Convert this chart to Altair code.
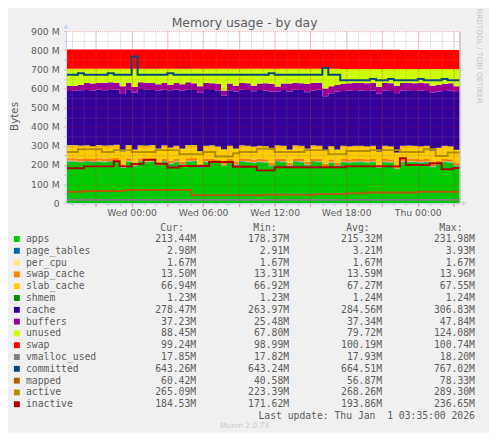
import altair as alt
import pandas as pd

# ---------------- data (MiB, 30-minute samples) ----------------
# sample times: hours after Tue 18:30 (last sample Thu 03:30)
hours = [i * 0.5 for i in range(67)]

apps = [217, 217, 214, 216, 212, 217, 214, 216, 218, 184,
        217, 194, 216, 214, 217, 199, 216, 204, 214, 199,
        217, 218, 186, 214, 216, 210, 196, 214, 199, 216,
        214, 210, 214, 212, 194, 216, 214, 194, 216, 214,
        199, 216, 214, 189, 212, 194, 214, 212, 214, 215,
        212, 214, 184, 214, 212, 179, 214, 216, 214, 212,
        214, 189, 204, 214, 212, 194, 213]
page_tables = [3.4] * 21 + [3.2] * 25 + [3.0] * 21
per_cpu = [1.67] * 67
swap_cache = [13.9] * 16 + [13.6] * 30 + [13.5] * 21
slab_cache = [67.5] * 21 + [67.3] * 25 + [67.0] * 21
shmem = [1.24] * 67
cache = [282, 284, 289, 289, 289, 290, 289, 293, 289, 300,
         292, 298, 294, 294, 288, 302, 291, 299, 293, 302,
         292, 287, 306, 296, 289, 291, 280, 289, 299, 291,
         291, 289, 291, 291, 304, 281, 291, 304, 291, 291,
         294, 287, 293, 284, 276, 304, 287, 291, 287, 288,
         289, 289, 304, 289, 289, 306, 289, 289, 287, 291,
         287, 304, 294, 287, 291, 301, 279]
buffers = [26, 26, 28, 36, 38, 36, 38, 36, 36, 40,
           34, 28, 35, 35, 36, 34, 36, 28, 34, 34,
           36, 36, 33, 33, 36, 36, 27, 36, 30, 36,
           36, 28, 34, 38, 39, 26, 34, 41, 36, 36,
           44, 40, 36, 40, 37, 35, 38, 38, 42, 40,
           40, 40, 35, 40, 40, 43, 40, 38, 40, 40,
           40, 35, 35, 38, 38, 30, 37]
unused = [91, 89, 85, 75, 77, 73, 75, 71, 73, 92,
          73, 96, 71, 73, 75, 81, 73, 85, 75, 81,
          71, 75, 91, 73, 75, 79, 113, 77, 88, 73,
          75, 89, 77, 75, 79, 93, 77, 77, 73, 75,
          79, 73, 73, 103, 91, 83, 77, 75, 73, 73,
          75, 73, 93, 73, 75, 88, 73, 73, 75, 73,
          75, 88, 83, 77, 75, 91, 87]
swap = [100.7] * 11 + [100.5] * 15 + [100.2] * 15 + [99.8] * 15 + [99.3] * 11

vmalloc_used = [18.2] * 6 + [17.9] * 60 + [17.85]
committed = [672, 672, 680, 672, 672, 672, 672, 680, 672, 672,
             672, 767, 672, 672, 672, 672, 672, 680, 672, 672,
             672, 672, 672, 672, 672, 672, 672, 672, 672, 672,
             672, 672, 672, 672, 680, 672, 672, 672, 672, 672,
             672, 672, 672, 708, 672, 672, 643, 643, 643, 643,
             643, 650, 643, 643, 650, 643, 643, 643, 643, 650,
             643, 643, 643, 650, 643, 643, 643]
mapped = [60, 60, 60, 64, 64, 64, 64, 64, 64, 64,
          70, 70, 70, 70, 70, 70, 70, 70, 70, 70,
          70, 42, 42, 42, 42, 42, 42, 42, 42, 42,
          42, 42, 42, 45, 45, 45, 45, 45, 45, 45,
          45, 45, 49, 49, 49, 49, 49, 53, 53, 53,
          56, 56, 56, 56, 56, 56, 56, 56, 56, 60,
          60, 60, 60, 60, 60, 60, 60]
active = [268, 268, 283, 283, 283, 283, 268, 268, 278, 278,
          278, 268, 268, 268, 268, 278, 278, 278, 278, 257,
          257, 257, 257, 268, 268, 245, 245, 245, 262, 268,
          268, 268, 285, 285, 285, 268, 268, 268, 268, 268,
          278, 278, 278, 278, 257, 257, 257, 273, 273, 273,
          273, 278, 278, 278, 278, 278, 268, 268, 268, 268,
          283, 283, 247, 247, 265, 265, 265]
inactive = [183, 183, 183, 193, 193, 193, 193, 193, 220, 193,
            193, 206, 206, 228, 228, 206, 206, 187, 187, 195,
            195, 195, 195, 195, 216, 216, 216, 216, 191, 191,
            191, 191, 172, 172, 172, 188, 188, 188, 188, 188,
            188, 188, 188, 188, 188, 188, 188, 193, 193, 193,
            193, 193, 193, 193, 193, 193, 236, 200, 200, 200,
            200, 209, 209, 178, 178, 184, 184]

stack_names = ["apps", "page_tables", "per_cpu", "swap_cache", "slab_cache",
               "shmem", "cache", "buffers", "unused", "swap"]
stack_values = [apps, page_tables, per_cpu, swap_cache, slab_cache,
                shmem, cache, buffers, unused, swap]
stack_colors = ["#00CC00", "#0066B3", "#FFE680", "#FF8000", "#FFCC00",
                "#008F00", "#330099", "#990099", "#CCFF00", "#FF0000"]

line_names = ["vmalloc_used", "committed", "mapped", "active", "inactive"]
line_values = [vmalloc_used, committed, mapped, active, inactive]
line_colors = ["#808080", "#00487D", "#B35A00", "#B38F00", "#B30000"]

legend_names = stack_names + line_names
legend_colors = stack_colors + line_colors
cur_vals = ["213.44M", "2.98M", "1.67M", "13.50M", "66.94M", "1.23M", "278.47M", "37.23M",
            "88.45M", "99.24M", "17.85M", "643.26M", "60.42M", "265.09M", "184.53M"]
min_vals = ["178.37M", "2.91M", "1.67M", "13.31M", "66.92M", "1.23M", "263.97M", "25.48M",
            "67.80M", "98.99M", "17.82M", "643.24M", "40.58M", "223.39M", "171.62M"]
avg_vals = ["215.32M", "3.21M", "1.67M", "13.59M", "67.27M", "1.24M", "284.56M", "37.34M",
            "79.72M", "100.19M", "17.93M", "664.51M", "56.87M", "268.26M", "193.86M"]
max_vals = ["231.98M", "3.93M", "1.67M", "13.96M", "67.55M", "1.24M", "306.83M", "47.84M",
            "124.08M", "100.74M", "18.20M", "767.02M", "78.33M", "289.30M", "236.65M"]
stat_cols = ["Cur", "Min", "Avg", "Max"]

tick_hours = [5.5, 11.5, 17.5, 23.5, 29.5]
tick_labels = ["Wed 00:00", "Wed 06:00", "Wed 12:00", "Wed 18:00", "Thu 00:00"]
major_hours = [2.5 + 3 * k for k in range(11)]
minor_hours = [0.5 + k for k in range(33)]
major_mib = [100 * k for k in range(10)]
minor_mib = [50 + 100 * k for k in range(9)]

title_text = "Memory usage - by day"
ylabel_text = "Bytes"
side_text = "RRDTOOL / TOBI OETIKER"
update_text = "Last update: Thu Jan\u00a0\u00a01 03:35:00 2026"
munin_text = "Munin 2.0.73"

# ---------------- tables ----------------
stack_rows = []
for i, h in enumerate(hours):
    base = 0.0
    for name, vals in zip(stack_names, stack_values):
        stack_rows.append({"h": h, "series": name, "y0": base, "y1": base + vals[i]})
        base += vals[i]
stack_df = pd.DataFrame(stack_rows)

line_df = pd.DataFrame([{"h": h, "series": n, "v": vals[i], "k": j}
                        for j, (n, vals) in enumerate(zip(line_names, line_values))
                        for i, h in enumerate(hours)])

leg_df = pd.DataFrame({"name": legend_names})
stat_df = pd.DataFrame([{"name": n, "col": c, "txt": lst[k]}
                        for k, n in enumerate(legend_names)
                        for c, lst in zip(stat_cols, [cur_vals, min_vals, avg_vals, max_vals])])
head_df = pd.DataFrame({"col": stat_cols, "txt": [c + ":" for c in stat_cols]})
frame_df = pd.DataFrame({"h": [hours[0], hours[-1]], "v": [major_mib[0], major_mib[-1]]})

TXT = "#5e5e5e"
LAV = "#CCD3F5"
SANS = "DejaVu Sans"
MONO = "DejaVu Sans Mono"

xs = alt.Scale(domain=[hours[0], hours[-1]], nice=False, zero=False)
ys = alt.Scale(domain=[major_mib[0], major_mib[-1]], nice=False)

area = alt.Chart(stack_df).mark_area(interpolate="step-after").encode(
    x=alt.X("h:Q", scale=xs, axis=None),
    y=alt.Y("y1:Q", scale=ys, axis=None, stack=False),
    y2="y0:Q",
    color=alt.Color("series:N", scale=alt.Scale(domain=stack_names, range=stack_colors), legend=None),
)

lines = alt.Chart(line_df).mark_line(interpolate="step-after", strokeWidth=2).encode(
    x=alt.X("h:Q", scale=xs, axis=None),
    y=alt.Y("v:Q", scale=ys, axis=None),
    color=alt.Color("series:N", scale=alt.Scale(domain=line_names, range=line_colors), legend=None),
    order=alt.Order("k:Q"),
)

label_expr = " : ".join(f"datum.value == {h} ? '{t}'" for h, t in zip(tick_hours, tick_labels)) + " : ''"

minor_axes = alt.Chart(frame_df).mark_point(opacity=0).encode(
    x=alt.X("h:Q", scale=xs, axis=alt.Axis(
        orient="bottom", values=minor_hours, grid=True, gridColor="#808080", gridOpacity=0.4,
        gridDash=[1, 1], labels=False, ticks=True, tickSize=2, tickColor="#b0b0b0",
        domain=True, domainColor=LAV, title="", zindex=1)),
    y=alt.Y("v:Q", scale=ys, axis=alt.Axis(
        orient="left", values=minor_mib, grid=True, gridColor="#808080", gridOpacity=0.4,
        gridDash=[1, 1], labels=False, ticks=True, tickSize=2, tickColor="#b0b0b0",
        domain=True, domainColor=LAV, title="", zindex=1)),
)

major_axes = alt.Chart(frame_df).mark_point(opacity=0).encode(
    x=alt.X("h:Q", scale=xs, axis=alt.Axis(
        orient="bottom", values=major_hours, grid=True, gridColor="#ff0000", gridOpacity=0.35,
        gridDash=[1, 1], labels=True, labelExpr=label_expr, labelFont=SANS, labelFontSize=9.4,
        labelColor=TXT, labelBaseline="alphabetic", labelPadding=9.7, labelFlush=False,
        labelOverlap=False, ticks=True, tickSize=3, tickColor="#f08080",
        domain=True, domainColor=LAV, title="", zindex=1)),
    y=alt.Y("v:Q", scale=ys, axis=alt.Axis(
        orient="left", values=major_mib, grid=True, gridColor="#ff0000", gridOpacity=0.35,
        gridDash=[1, 1], labels=True, labelExpr="datum.value == 0 ? '0' : datum.value + ' M'",
        labelFont=SANS, labelFontSize=9.4, labelColor=TXT, labelPadding=5, labelFlush=False,
        labelOverlap=False, ticks=True, tickSize=2, tickColor="#b0b0b0",
        domain=True, domainColor=LAV, title="", zindex=1)),
)

right_edge = alt.Chart(frame_df).mark_point(opacity=0).encode(
    y=alt.Y("v:Q", scale=ys, axis=alt.Axis(
        orient="right", grid=False, labels=False, ticks=False, domain=True,
        domainColor="#a8a8a8", title="", zindex=1)),
)

arrow_up = alt.Chart(frame_df.iloc[[1]]).mark_point(
    shape="triangle-up", filled=True, size=28, color=LAV, opacity=1, yOffset=-5).encode(
    x=alt.value(0),
    y=alt.Y("v:Q", scale=ys, axis=None),
)
arrow_right = alt.Chart(frame_df.iloc[[1]]).mark_point(
    shape="triangle-right", filled=True, size=28, color=LAV, opacity=1, xOffset=5).encode(
    x=alt.X("h:Q", scale=xs, axis=None),
    y=alt.value(175),
)


def label(text, x, y, **kw):
    return alt.Chart(pd.DataFrame({"t": [text]})).mark_text(**kw).encode(
        text="t:N", x=alt.value(x), y=alt.value(y))


title = label(title_text, 181.5, -3.8, font=SANS, fontSize=12.6, color=TXT,
              align="center", baseline="alphabetic")
ylab = label(ylabel_text, -51.5, 86.7, font=SANS, fontSize=10.5, color=TXT,
             align="center", baseline="middle", angle=270)
side = label(side_text, 420, 25.5, font=SANS, fontSize=7.5, color="#c6c6c6",
             align="center", baseline="middle", angle=90)
update = label(update_text, 415.7, 391.5, font=MONO, fontSize=9.9, color=TXT,
               align="right", baseline="middle")
munin = label(munin_text, 181.5, 401, font=SANS, fontSize=7.6, color="#cccccc",
              align="center", baseline="middle")

ly = alt.Scale(type="point", domain=legend_names, range=[211.3, 379.3], padding=0)
lx = alt.Scale(type="point", domain=stat_cols, range=[132.3, 415.7], padding=0)

swatches = alt.Chart(leg_df).mark_square(size=36, opacity=1).encode(
    x=alt.value(-50),
    y=alt.Y("name:N", scale=ly, axis=None),
    color=alt.Color("name:N", scale=alt.Scale(domain=legend_names, range=legend_colors), legend=None),
)
names_txt = alt.Chart(leg_df).mark_text(align="left", baseline="middle", font=MONO,
                                         fontSize=9.9, color=TXT).encode(
    x=alt.value(-40.7),
    y=alt.Y("name:N", scale=ly, axis=None),
    text="name:N",
)
stats_txt = alt.Chart(stat_df).mark_text(align="right", baseline="middle", font=MONO,
                                          fontSize=9.9, color=TXT).encode(
    x=alt.X("col:N", scale=lx, axis=None),
    y=alt.Y("name:N", scale=ly, axis=None),
    text="txt:N",
)
heads_txt = alt.Chart(head_df).mark_text(align="right", baseline="middle", font=MONO,
                                          fontSize=9.9, color=TXT, dx=-12.6).encode(
    x=alt.X("col:N", scale=lx, axis=None),
    y=alt.value(200),
    text="txt:N",
)

chart = alt.layer(
    area, lines, minor_axes, major_axes, right_edge, arrow_up, arrow_right,
    title, ylab, side, update, munin, swatches, names_txt, stats_txt, heads_txt,
).resolve_scale(
    x="independent", y="independent", color="independent"
).resolve_axis(
    x="independent", y="independent"
).properties(
    width=400, height=175,
    padding={"left": 59, "top": 20, "right": 30, "bottom": 230},
    autosize=alt.AutoSizeParams(type="none"),
).configure(
    background="#F0F0F0",
).configure_view(
    fill="#ffffff", strokeWidth=0,
)

chart.save("out.html", embed_options={"renderer": "svg", "actions": False})
